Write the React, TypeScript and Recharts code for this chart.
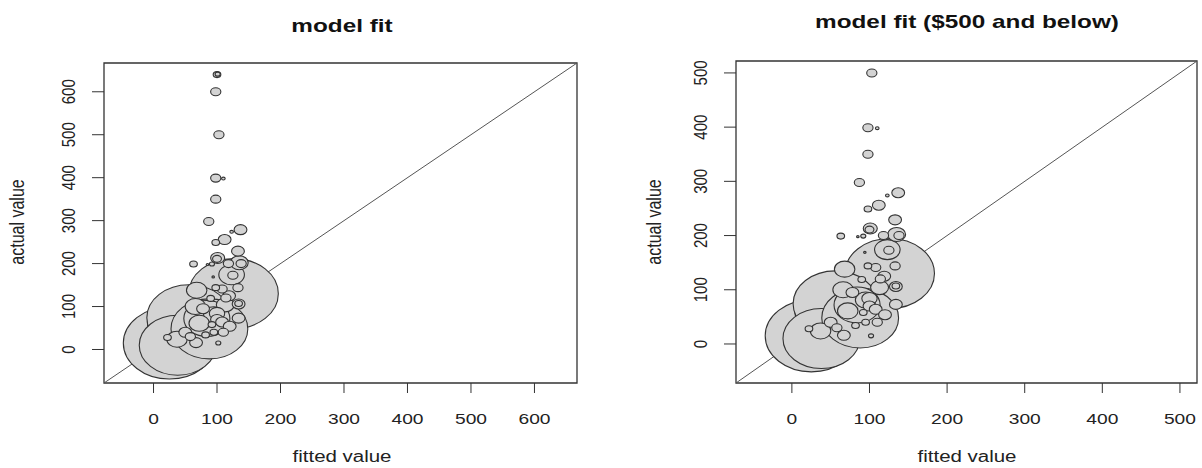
import React from 'react';
import {
  ScatterChart,
  Scatter,
  XAxis,
  YAxis,
  ZAxis,
  ReferenceLine,
  ReferenceArea,
} from 'recharts';

// fitted vs actual, bubble area ~ number of listings
const fittedValues = [
  25, 38, 63, 56, 126, 88, 84, 123,
  103, 98, 110, 98, 87, 137, 123, 112, 98, 133, 101, 100,
  63, 92, 85, 135, 138, 118, 125, 94, 68, 108, 133, 98,
  119, 114, 90, 134, 134, 66, 113, 95, 100, 100, 134, 72,
  108, 50, 92, 120, 110, 95, 37, 22, 67, 82, 102,
  100, 101, 98, 78, 58,
];
const actualValues = [
  15, 10, 64, 74, 130, 48, 72, 174,
  500, 399, 398, 350, 298, 279, 274, 256, 249, 229, 213, 211,
  199, 199, 198, 202, 200, 200, 173, 169, 138, 141, 144, 144,
  125, 120, 119, 106, 107, 100, 104, 81, 84, 70, 73, 61,
  64, 40, 58, 54, 40, 40, 24, 28, 16, 34, 15,
  640, 641, 600, 95, 30,
];
const listings = [
  1296, 900, 1296, 1089, 1225, 900, 324, 100,
  16, 16, 2, 16, 16, 25, 2, 25, 9, 25, 30, 12,
  9, 4, 1, 49, 16, 16, 16, 1, 64, 16, 16, 9,
  25, 16, 9, 25, 9, 64, 49, 64, 36, 25, 25, 64,
  25, 25, 9, 25, 16, 9, 64, 9, 25, 9, 4,
  9, 4, 16, 25, 16,
];

const leftTicks = [0, 100, 200, 300, 400, 500, 600];
const rightTicks = [0, 100, 200, 300, 400, 500];

const MAX_R = 36;
const STRETCH = 1.28;
const FONT = '"Liberation Sans", Arial, sans-serif';

const points = fittedValues
  .map((f, i) => ({ fitted: f, actual: actualValues[i], count: listings[i] }))
  .sort((a, b) => b.count - a.count);

const Bubble = (props: any) => {
  const { cx, cy, size, payload } = props;
  if (cx == null || cy == null) return null;
  const area = size != null ? size : (Math.PI * MAX_R * MAX_R * payload.count) / 1296;
  const r = Math.sqrt(area / Math.PI);
  return (
    <ellipse cx={cx} cy={cy} rx={r * STRETCH} ry={r} fill="#d3d3d3" stroke="#333" strokeWidth={1.1} />
  );
};

const XTick = (props: any) => {
  const { x, y, payload } = props;
  return (
    <text
      transform={`translate(${x},${y}) scale(${STRETCH},1)`}
      textAnchor="middle"
      dy="0.71em"
      fontSize={15}
      fontFamily={FONT}
      fill="#222"
    >
      {payload.value}
    </text>
  );
};

const YTick = (props: any) => {
  const { x, y, payload } = props;
  return (
    <text
      transform={`translate(${x},${y}) scale(${STRETCH},1) rotate(-90)`}
      textAnchor="middle"
      dy="0.36em"
      fontSize={15}
      fontFamily={FONT}
      fill="#222"
    >
      {payload.value}
    </text>
  );
};

type PanelProps = {
  data: typeof points;
  domain: [number, number];
  ticks: number[];
  width: number;
  axisWidth: number;
  top: number;
  right: number;
};

const Panel = ({ data, domain, ticks, width, axisWidth, top, right }: PanelProps) => (
  <ScatterChart width={width} height={468} margin={{ top, right, bottom: 0, left: 0 }}>
    <XAxis
      type="number"
      dataKey="fitted"
      domain={domain}
      ticks={ticks}
      allowDataOverflow
      height={85}
      axisLine={false}
      tickSize={10}
      tickMargin={20}
      tickLine={{ stroke: '#333' }}
      tick={<XTick />}
    />
    <YAxis
      type="number"
      dataKey="actual"
      domain={domain}
      ticks={ticks}
      allowDataOverflow
      width={axisWidth}
      axisLine={false}
      tickSize={12}
      tickMargin={24}
      tickLine={{ stroke: '#333' }}
      tick={<YTick />}
    />
    <ZAxis type="number" dataKey="count" domain={[0, 1296]} range={[0, Math.PI * MAX_R * MAX_R]} />
    <Scatter data={data} shape={<Bubble />} isAnimationActive={false} />
    <ReferenceLine
      segment={[
        { x: domain[0], y: domain[0] },
        { x: domain[1], y: domain[1] },
      ]}
      stroke="#555"
      strokeWidth={1}
    />
    <ReferenceArea
      x1={domain[0]}
      x2={domain[1]}
      y1={domain[0]}
      y2={domain[1]}
      fill="none"
      fillOpacity={0}
      stroke="#333"
      strokeWidth={1.3}
    />
  </ScatterChart>
);

const textStyle = { fontFamily: FONT, fill: '#222' };

export default function App() {
  return (
    <div style={{ position: 'absolute', left: 0, top: 0, width: 1202, height: 468, background: '#fff' }}>
      <div style={{ position: 'absolute', left: 0, top: 0 }}>
        <Panel data={points} domain={[-78, 667]} ticks={leftTicks} width={600} axisWidth={104} top={63} right={23} />
      </div>
      <div style={{ position: 'absolute', left: 600, top: 0 }}>
        <Panel
          data={points.filter((p) => p.actual <= 500)}
          domain={[-72, 522]}
          ticks={rightTicks}
          width={602}
          axisWidth={136}
          top={61}
          right={5}
        />
      </div>
      <svg width={1202} height={468} style={{ position: 'absolute', left: 0, top: 0, pointerEvents: 'none' }}>
        <text transform={`translate(342,32) scale(${STRETCH},1)`} textAnchor="middle" fontSize={19} fontWeight="bold" style={{ ...textStyle, fill: '#111' }}>
          model fit
        </text>
        <text transform={`translate(967,28) scale(${STRETCH},1)`} textAnchor="middle" fontSize={19} fontWeight="bold" style={{ ...textStyle, fill: '#111' }}>
          model fit ($500 and below)
        </text>
        <text transform={`translate(342,462) scale(${STRETCH},1)`} textAnchor="middle" fontSize={16} style={textStyle}>
          fitted value
        </text>
        <text transform={`translate(967,462) scale(${STRETCH},1)`} textAnchor="middle" fontSize={16} style={textStyle}>
          fitted value
        </text>
        <text transform={`translate(18,222) scale(${STRETCH},1) rotate(-90)`} textAnchor="middle" dy="0.3em" fontSize={16} style={textStyle}>
          actual value
        </text>
        <text transform={`translate(655,222) scale(${STRETCH},1) rotate(-90)`} textAnchor="middle" dy="0.3em" fontSize={16} style={textStyle}>
          actual value
        </text>
      </svg>
    </div>
  );
}
